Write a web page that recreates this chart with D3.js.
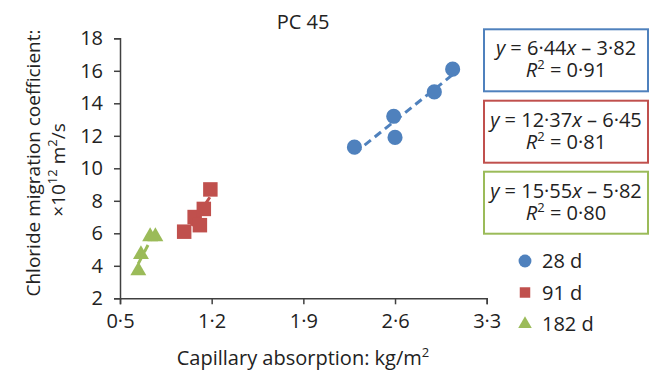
<!DOCTYPE html>
<html>
<head>
<meta charset="utf-8">
<script src="https://cdn.jsdelivr.net/npm/d3@7"></script>
<style>
  body { margin: 0; background: #fff; }
  svg { font-family: "Open Sans", "Noto Sans", sans-serif; }
</style>
</head>
<body>
<div id="chart"></div>
<script>
// PC 45: chloride migration vs capillary absorption, three curing ages

const xTicks = [0.5, 1.2, 1.9, 2.6, 3.3];
const yTicks = [2, 4, 6, 8, 10, 12, 14, 16, 18];

const seriesNames = ["28 d", "91 d", "182 d"];
const seriesColors = ["#4f81bd", "#c0504d", "#9bbb59"];
const seriesShapes = [d3.symbolCircle, d3.symbolSquare, d3.symbolTriangle];

const x28 = [2.29, 2.59, 2.60, 2.90, 3.04];
const y28 = [11.3, 13.2, 11.9, 14.7, 16.1];
const x91 = [0.99, 1.07, 1.11, 1.14, 1.19];
const y91 = [6.1, 7.0, 6.5, 7.5, 8.7];
const x182 = [0.64, 0.66, 0.73, 0.77];
const y182 = [3.7, 4.7, 5.8, 5.8];

const slopes = [6.44, 12.37, 15.55];
const intercepts = [-3.82, -6.45, -5.82];
const r2 = [0.91, 0.81, 0.80];

const series = [
    {xs: x28, ys: y28},
    {xs: x91, ys: y91},
    {xs: x182, ys: y182}
].map((s, i) => ({
    name: seriesNames[i],
    color: seriesColors[i],
    shape: seriesShapes[i],
    slope: slopes[i],
    intercept: intercepts[i],
    r2: r2[i],
    points: s.xs.map((v, j) => ({x: v, y: s.ys[j]}))
}));

const width = 652, height = 370;
const margin = {top: 38.3, right: 165.3, bottom: 71.7, left: 120};
const fs = "20px";

const svg = d3.select("#chart").append("svg")
    .attr("width", width)
    .attr("height", height);

const xScale = d3.scaleLinear()
    .domain([0.5, 3.3])
    .range([margin.left, width - margin.right]);

const yScale = d3.scaleLinear()
    .domain([2, 18])
    .range([height - margin.bottom, margin.top]);

const dot = s => s.toString().replace(".", "\u00b7");

// axes
const xAxis = svg.append("g")
    .attr("transform", `translate(0, ${yScale(2)})`)
    .call(d3.axisBottom(xScale).tickValues(xTicks).tickSizeOuter(0).tickSize(6).tickPadding(10)
        .tickFormat(d => dot(d3.format(".1f")(d))));

const yAxis = svg.append("g")
    .attr("transform", `translate(${xScale(0.5)}, 0)`)
    .call(d3.axisLeft(yScale).tickValues(yTicks).tickSizeOuter(0).tickSize(6).tickPadding(11));

[xAxis, yAxis].forEach(ax => {
    ax.select(".domain").attr("stroke", "#404040").attr("stroke-width", 1.5);
    ax.selectAll(".tick line").attr("stroke", "#404040").attr("stroke-width", 1.5);
    ax.selectAll(".tick text")
        .attr("fill", "#222")
        .style("font-size", fs)
        .style("font-family", "'Open Sans', 'Noto Sans', sans-serif");
});

// trend lines
series.forEach(s => {
    const xExt = d3.extent(s.points, d => d.x);
    svg.append("line")
        .attr("x1", xScale(xExt[0]))
        .attr("y1", yScale(s.slope * xExt[0] + s.intercept))
        .attr("x2", xScale(xExt[1]))
        .attr("y2", yScale(s.slope * xExt[1] + s.intercept))
        .attr("stroke", s.color)
        .attr("stroke-width", 3)
        .attr("stroke-dasharray", "8,5");
});

// markers
series.forEach(s => {
    svg.append("g").selectAll("path")
        .data(s.points)
        .join("path")
        .attr("transform", d => `translate(${xScale(d.x)}, ${yScale(d.y)})`)
        .attr("d", d3.symbol().type(s.shape).size(s.shape === d3.symbolTriangle ? 110 : (s.shape === d3.symbolSquare ? 210 : 180)))
        .attr("fill", s.color);
});

// title
svg.append("text")
    .attr("x", 303)
    .attr("y", 29)
    .attr("text-anchor", "middle")
    .attr("fill", "#222")
    .style("font-size", fs)
    .text("PC 45");

// x axis title
const xt = svg.append("text")
    .attr("x", 303)
    .attr("y", 365)
    .attr("text-anchor", "middle")
    .attr("fill", "#222")
    .style("font-size", fs);
xt.append("tspan").text("Capillary absorption: kg/m");
xt.append("tspan").attr("dy", -8).style("font-size", "13px").text("2");

// y axis title, two lines
svg.append("text")
    .attr("transform", "translate(40, 163) rotate(-90)")
    .attr("text-anchor", "middle")
    .attr("fill", "#222")
    .style("font-size", "19px")
    .text("Chloride migration coefficient:");

const yt2 = svg.append("text")
    .attr("transform", "translate(65, 170) rotate(-90)")
    .attr("text-anchor", "middle")
    .attr("fill", "#222")
    .style("font-size", "19px");
yt2.append("tspan").text("\u00d710");
yt2.append("tspan").attr("dy", -8).style("font-size", "13px").text("12");
yt2.append("tspan").attr("dy", 8).text(" m");
yt2.append("tspan").attr("dy", -8).style("font-size", "13px").text("2");
yt2.append("tspan").attr("dy", 8).text("/s");

// equation boxes
const boxTop = [29.3, 100.7, 171.7];
series.forEach((s, i) => {
    const g = svg.append("g").attr("transform", `translate(484, ${boxTop[i]})`);
    g.append("rect")
        .attr("width", 164)
        .attr("height", 62)
        .attr("fill", "#fff")
        .attr("stroke", s.color)
        .attr("stroke-width", 2);
    const l1 = g.append("text")
        .attr("x", 82)
        .attr("y", 26)
        .attr("text-anchor", "middle")
        .attr("fill", "#222")
        .style("font-size", fs);
    l1.append("tspan").style("font-style", "italic").text("y");
    l1.append("tspan").text(" = " + dot(s.slope.toFixed(2)));
    l1.append("tspan").style("font-style", "italic").text("x");
    l1.append("tspan").text(" \u2013 " + dot(Math.abs(s.intercept).toFixed(2)));
    const l2 = g.append("text")
        .attr("x", 82)
        .attr("y", 48)
        .attr("text-anchor", "middle")
        .attr("fill", "#222")
        .style("font-size", fs);
    l2.append("tspan").style("font-style", "italic").text("R");
    l2.append("tspan").attr("dy", -8).style("font-size", "13px").text("2");
    l2.append("tspan").attr("dy", 8).text(" = " + dot(s.r2.toFixed(2)));
});

// legend
const legend = svg.append("g")
    .selectAll("g")
    .data(series)
    .join("g")
    .attr("transform", (d, i) => `translate(525, ${261 + i * 31.5})`);

legend.append("path")
    .attr("d", d => d3.symbol().type(d.shape).size(d.shape === d3.symbolTriangle ? 80 : (d.shape === d3.symbolSquare ? 110 : 130))())
    .attr("fill", d => d.color);

legend.append("text")
    .attr("x", 17)
    .attr("y", 7)
    .attr("fill", "#222")
    .style("font-size", fs)
    .text(d => d.name);
</script>
</body>
</html>
